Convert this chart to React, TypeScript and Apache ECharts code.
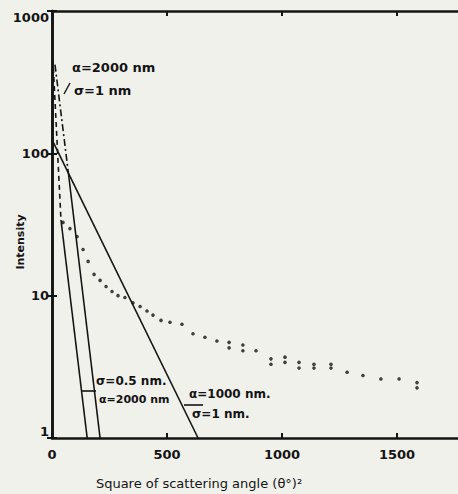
import React, { useEffect, useRef } from "react";
import * as echarts from "echarts";

// Data (x: square of scattering angle, y: intensity, log scale)
const longLine: [number, number][] = [[0, 125], [635, 1]];            // α=1000 nm, σ=1 nm
const steepDashed: [number, number][] = [[4, 460], [39, 34]];         // α=2000 nm, σ=1 nm (upper part)
const steepSolid: [number, number][] = [[39, 34], [153, 1]];
const midDashDot: [number, number][] = [[13, 420], [72, 71]];
const midSolid: [number, number][] = [[72, 71], [209, 1]];

const dotX = [48, 78, 109, 135, 157, 183, 209, 235, 261, 287, 317, 352, 383, 413, 439, 474, 513, 565, 613, 665, 717,
  770, 770, 830, 830, 887, 952, 952, 1013, 1013, 1074, 1074, 1139, 1139, 1213, 1213, 1283, 1352, 1430, 1509, 1587, 1587];
const dotY = [32.7, 29.6, 26, 21.1, 17.4, 14.1, 12.8, 11.6, 10.7, 10, 9.7, 8.9, 8.4, 7.8, 7.3, 6.7, 6.5, 6.3, 5.4, 5.1, 4.8,
  4.7, 4.3, 4.5, 4.1, 4.1, 3.6, 3.3, 3.7, 3.4, 3.4, 3.1, 3.3, 3.1, 3.3, 3.1, 2.9, 2.75, 2.6, 2.6, 2.45, 2.25];

const xTickValues = [0, 500, 1000, 1500];
const yTickValues = [1, 10, 100, 1000];
const xTitle = "Square of scattering angle (θ°)²";
const yTitle = "Intensity";

const INK = "#141414";
const BG = "#f1f1ec";
const FONT = "DejaVu Sans";

export default function App() {
  const ref = useRef<HTMLDivElement>(null);
  useEffect(() => {
    if (!ref.current) return;
    const chart = echarts.init(ref.current, null, { renderer: "svg" });
    const lineSeries = (data: [number, number][], type: any) => ({
      type: "line",
      data,
      showSymbol: false,
      silent: true,
      lineStyle: { color: INK, width: 1.6, type },
      xAxisIndex: 0,
      yAxisIndex: 0,
    });
    const axisCommon = {
      axisLine: { show: true, lineStyle: { color: INK, width: 2.6 } },
      axisTick: { show: true, inside: true, length: 5, lineStyle: { color: INK, width: 2 } },
      splitLine: { show: false },
      minorTick: { show: false },
    };
    const label = (text: string, x: number, y: number, size = 13) => ({
      type: "text", x, y,
      style: { text, fill: INK, fontFamily: FONT, fontWeight: "bold", fontSize: size, verticalAlign: "middle" },
    });
    chart.setOption({
      animation: false,
      backgroundColor: BG,
      grid: { left: 52, top: 11, width: 409.4, height: 427 },
      xAxis: [
        {
          type: "value", min: 0, max: 1780, interval: 500, position: "bottom",
          ...axisCommon,
          axisLabel: {
            show: true, showMaxLabel: false, margin: 10, color: INK,
            fontFamily: FONT, fontWeight: "bold", fontSize: 13,
            formatter: (v: number) => (xTickValues.includes(v) ? String(v) : ""),
          },
        },
        {
          type: "value", min: 0, max: 1780, interval: 500, position: "top",
          ...axisCommon,
          axisLabel: { show: false },
        },
      ],
      yAxis: [
        {
          type: "log", logBase: 10, min: 1, max: 1000, position: "left",
          ...axisCommon,
          axisLabel: {
            show: true, margin: 3, color: INK, fontFamily: FONT, fontWeight: "bold", fontSize: 13,
            verticalAlignMaxLabel: "top", verticalAlignMinLabel: "bottom",
            formatter: (v: number) => (yTickValues.includes(v) ? String(v) : ""),
          },
        },
        {
          type: "log", logBase: 10, min: 1, max: 1000, position: "right",
          ...axisCommon,
          axisLabel: { show: false },
        },
      ],
      series: [
        lineSeries(longLine, "solid"),
        lineSeries(steepDashed, [5, 4]),
        lineSeries(steepSolid, "solid"),
        lineSeries(midDashDot, [7, 3, 2, 3]),
        lineSeries(midSolid, "solid"),
        {
          type: "scatter",
          data: dotX.map((x, i) => [x, dotY[i]]),
          symbol: "circle",
          symbolSize: 3.6,
          itemStyle: { color: INK },
          silent: true,
        },
      ],
      graphic: [
        label("α=2000 nm", 72, 67),
        label("σ=1 nm", 74, 90),
        { type: "line", shape: { x1: 64, y1: 94, x2: 70, y2: 83 }, style: { stroke: INK, lineWidth: 1.4 } },
        label("σ=0.5 nm.", 96, 381, 12),
        label("α=2000 nm", 99, 399, 11),
        { type: "line", shape: { x1: 82, y1: 391, x2: 96, y2: 391 }, style: { stroke: INK, lineWidth: 1.6 } },
        label("α=1000 nm.", 189, 394, 12),
        { type: "line", shape: { x1: 184, y1: 405, x2: 203, y2: 405 }, style: { stroke: INK, lineWidth: 1.6 } },
        label("σ=1 nm.", 192, 414, 12),
        { type: "text", x: 199, y: 483, style: { text: xTitle, fill: INK, fontFamily: FONT, fontSize: 13, align: "center", verticalAlign: "middle" } },
        { type: "text", x: 20, y: 242, rotation: Math.PI / 2, style: { text: yTitle, fill: INK, fontFamily: FONT, fontWeight: "bold", fontSize: 11, align: "center", verticalAlign: "middle" } },
      ],
    });
    return () => chart.dispose();
  }, []);
  return (
    <div
      ref={ref}
      style={{ position: "fixed", left: 0, top: 0, width: 470, height: 494, background: BG }}
    />
  );
}
